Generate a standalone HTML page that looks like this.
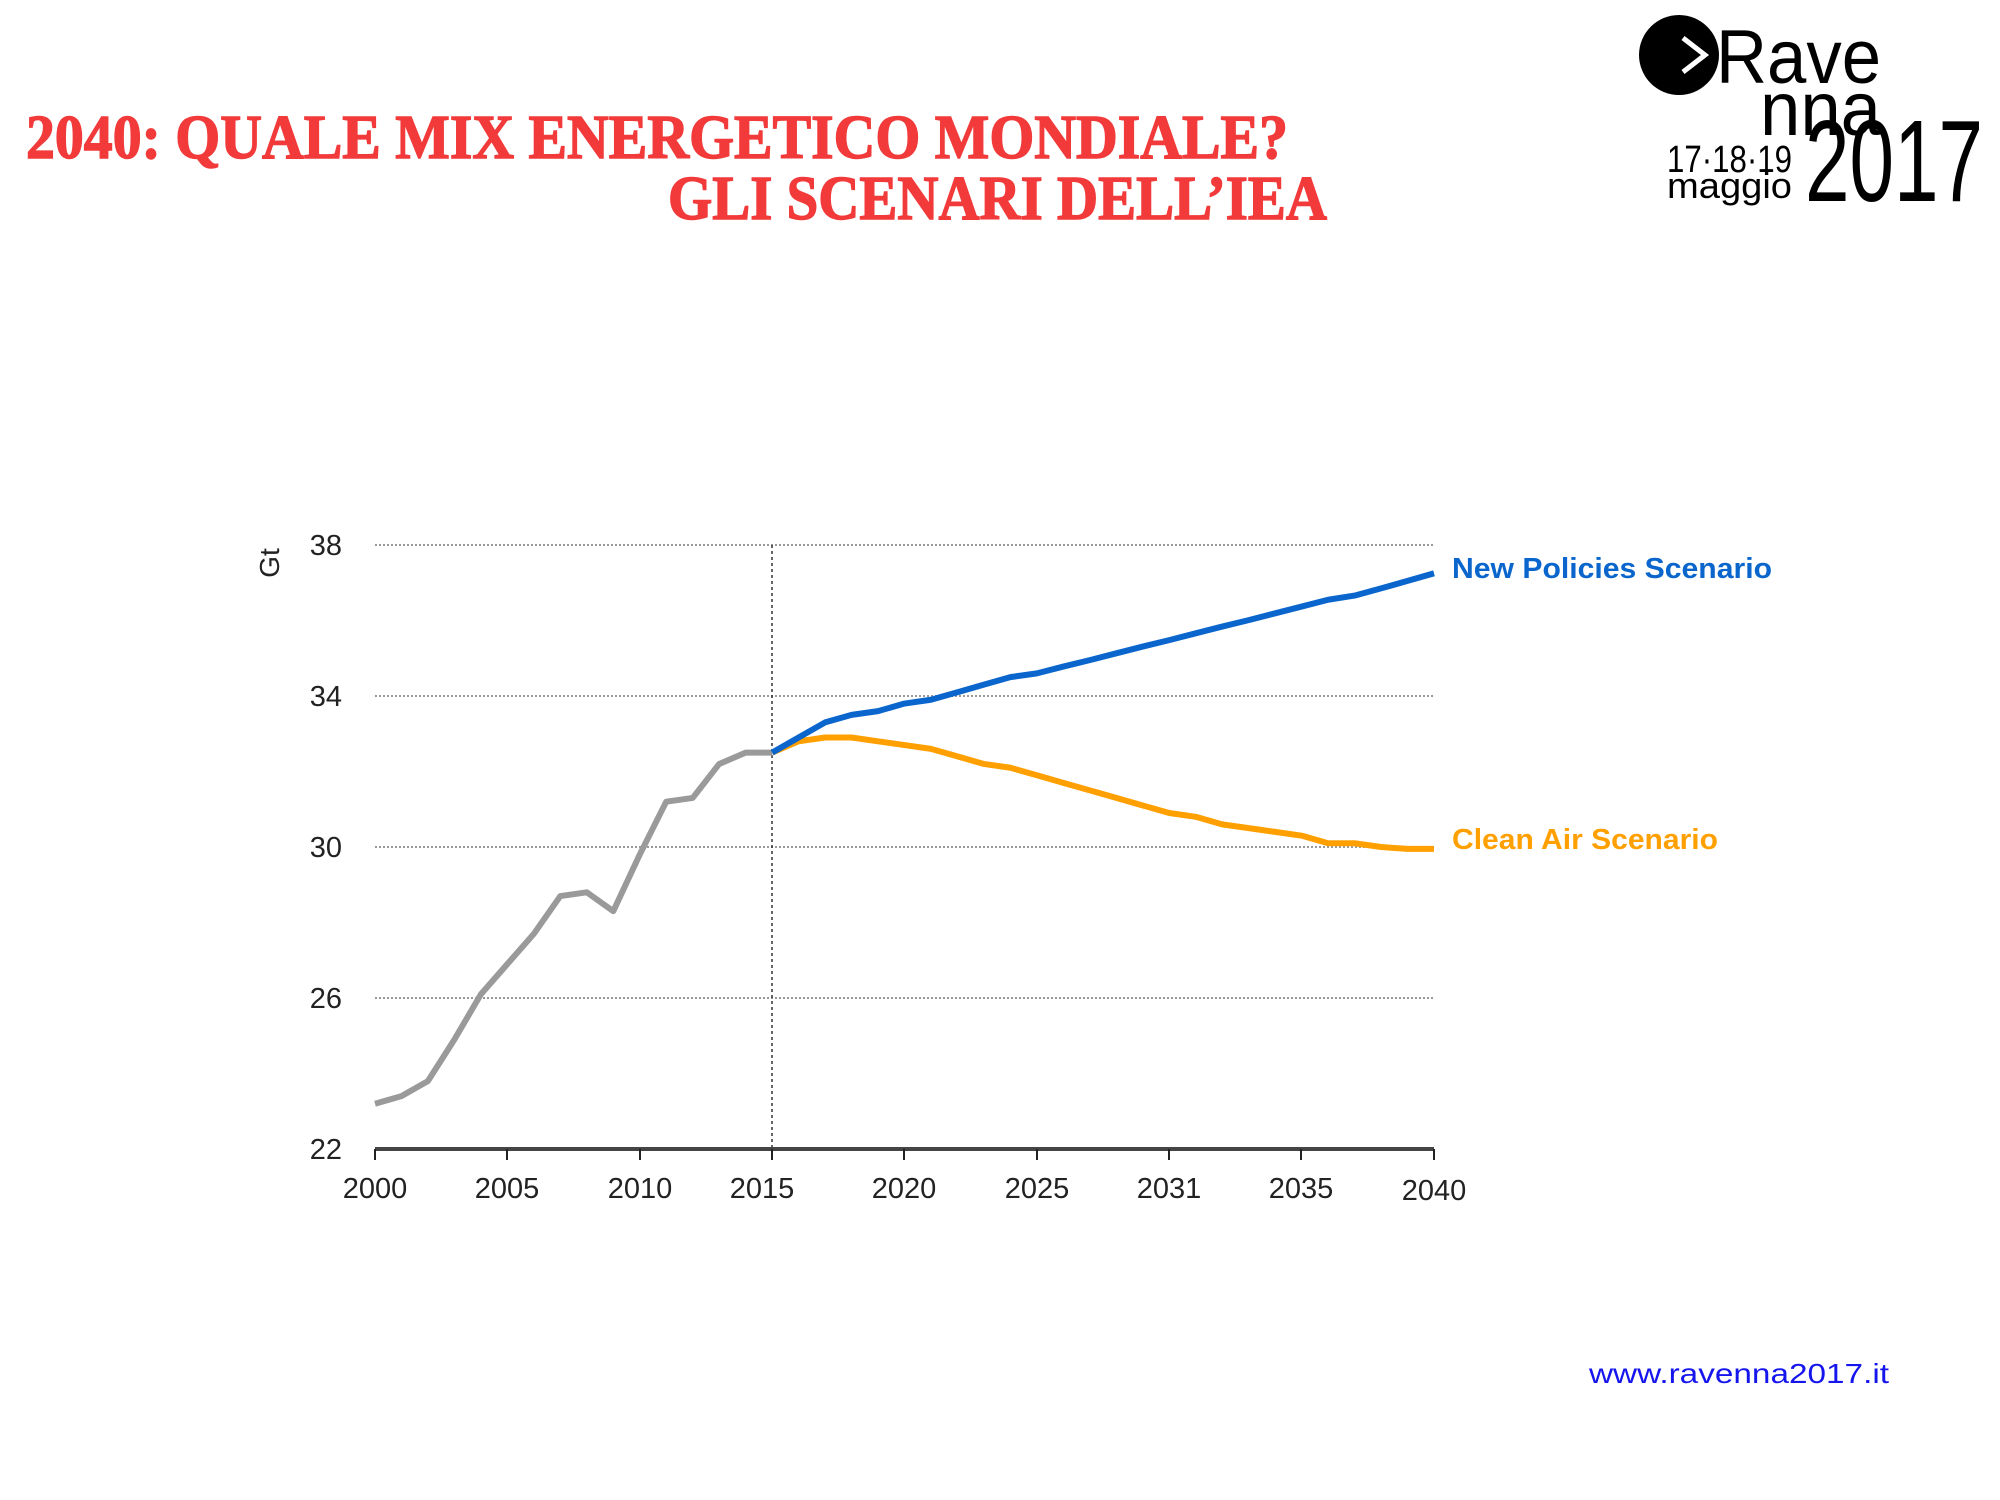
<!DOCTYPE html>
<html><head><meta charset="utf-8"><style>html,body{margin:0;padding:0;background:#fff}svg{display:block}</style></head>
<body>
<svg width="2000" height="1500" viewBox="0 0 2000 1500" xmlns="http://www.w3.org/2000/svg">
<rect width="2000" height="1500" fill="#fff"/>
<g font-family="'Liberation Serif', serif" font-weight="bold" fill="#f23a3a">
<text transform="translate(26,158) scale(1,1.15)" font-size="54" textLength="1262" lengthAdjust="spacingAndGlyphs" stroke="#f23a3a" stroke-width="1.2">2040: QUALE MIX ENERGETICO MONDIALE?</text>
<text transform="translate(668,219) scale(1,1.15)" font-size="54" textLength="659" lengthAdjust="spacingAndGlyphs" stroke="#f23a3a" stroke-width="1.2">GLI SCENARI DELL’IEA</text>
</g>
<g font-family="'Liberation Sans', sans-serif" fill="#000">
<circle cx="1679" cy="55" r="40" fill="#000"/>
<path d="M1683 38 L1705 55 L1683 72" stroke="#fff" stroke-width="5" fill="none"/>
<text x="1716" y="83" font-size="76" textLength="165" lengthAdjust="spacingAndGlyphs">Rave</text>
<text x="1760" y="135" font-size="76" textLength="121" lengthAdjust="spacingAndGlyphs">nna</text>
<text x="1805" y="201" font-size="116" textLength="178" lengthAdjust="spacingAndGlyphs">2017</text>
<text x="1667" y="172" font-size="38" textLength="125" lengthAdjust="spacingAndGlyphs">17·18·19</text>
<text x="1667" y="198" font-size="36" textLength="125" lengthAdjust="spacingAndGlyphs">maggio</text>
</g>
<g stroke="#999" stroke-width="2" stroke-dasharray="2,2">
<line x1="375" y1="545" x2="1434" y2="545"/>
<line x1="375" y1="696" x2="1434" y2="696"/>
<line x1="375" y1="847" x2="1434" y2="847"/>
<line x1="375" y1="998" x2="1434" y2="998"/>
</g>
<line x1="772" y1="545" x2="772" y2="1149" stroke="#333" stroke-width="1.5" stroke-dasharray="3,3"/>
<line x1="375" y1="1149" x2="1434" y2="1149" stroke="#444" stroke-width="4"/>
<g stroke="#222" stroke-width="2">
<line x1="375" y1="1149" x2="375" y2="1160"/><line x1="507" y1="1149" x2="507" y2="1160"/>
<line x1="640" y1="1149" x2="640" y2="1160"/><line x1="772" y1="1149" x2="772" y2="1160"/>
<line x1="904" y1="1149" x2="904" y2="1160"/><line x1="1037" y1="1149" x2="1037" y2="1160"/>
<line x1="1169" y1="1149" x2="1169" y2="1160"/><line x1="1301" y1="1149" x2="1301" y2="1160"/>
<line x1="1434" y1="1149" x2="1434" y2="1160"/>
</g>
<g font-family="'Liberation Sans', sans-serif" font-size="29" fill="#222">
<g text-anchor="end">
<text x="342" y="555">38</text><text x="342" y="706">34</text><text x="342" y="857">30</text><text x="342" y="1008">26</text><text x="342" y="1159">22</text>
</g>
<g text-anchor="middle">
<text x="375" y="1198">2000</text><text x="507" y="1198">2005</text><text x="640" y="1198">2010</text><text x="762" y="1198">2015</text>
<text x="904" y="1198">2020</text><text x="1037" y="1198">2025</text><text x="1169" y="1198">2031</text><text x="1301" y="1198">2035</text><text x="1434" y="1200">2040</text>
</g>
<text transform="translate(279,563) rotate(-90)" text-anchor="middle" font-size="28">Gt</text>
</g>
<g transform="translate(375,1149) scale(26.475,-37.75)" fill="none" stroke-width="6" stroke-linejoin="round">
<polyline vector-effect="non-scaling-stroke" stroke="#9a9a9a" points="0,1.2 1,1.4 2,1.8 3,2.9 4,4.1 5,4.9 6,5.7 7,6.7 8,6.8 9,6.3 10,7.8 11,9.2 12,9.3 13,10.2 14,10.5 15,10.5"/>
<polyline vector-effect="non-scaling-stroke" stroke="#ffa000" points="15,10.5 16,10.8 17,10.9 18,10.9 19,10.8 20,10.7 21,10.6 22,10.4 23,10.2 24,10.1 25,9.9 26,9.7 27,9.5 28,9.3 29,9.1 30,8.9 31,8.8 32,8.6 33,8.5 34,8.4 35,8.3 36,8.1 37,8.1 38,8.0 39,7.95 40,7.95"/>
<polyline vector-effect="non-scaling-stroke" stroke="#0a66cc" points="15,10.5 16,10.9 17,11.3 18,11.5 19,11.6 20,11.8 21,11.9 22,12.1 23,12.3 24,12.5 25,12.6 26,12.78 27,12.95 28,13.13 29,13.31 30,13.48 31,13.66 32,13.84 33,14.01 34,14.19 35,14.37 36,14.55 37,14.66 38,14.85 39,15.05 40,15.25"/>
</g>
<g font-family="'Liberation Sans', sans-serif" font-size="29" font-weight="bold">
<text x="1452" y="578" fill="#0a66cc" textLength="320" lengthAdjust="spacingAndGlyphs">New Policies Scenario</text>
<text x="1452" y="849" fill="#ffa000" textLength="266" lengthAdjust="spacingAndGlyphs">Clean Air Scenario</text>
</g>
<text x="1589" y="1383" font-family="'Liberation Sans', sans-serif" font-size="28" fill="#1515ee" textLength="300" lengthAdjust="spacingAndGlyphs">www.ravenna2017.it</text>
</svg>
</body></html>
